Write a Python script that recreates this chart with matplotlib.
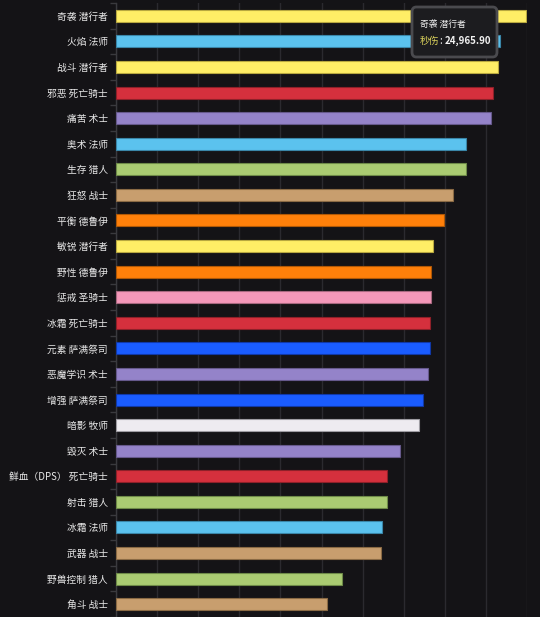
import matplotlib
matplotlib.use("Agg")
import matplotlib.pyplot as plt
from matplotlib.patches import FancyBboxPatch
from matplotlib.ticker import MultipleLocator, FixedLocator
import numpy as np

plt.rcParams['font.family'] = ['Noto Sans CJK SC', 'DejaVu Sans']

specs = ["奇袭 潜行者", "火焰 法师", "战斗 潜行者", "邪恶 死亡骑士", "痛苦 术士", "奥术 法师",
         "生存 猎人", "狂怒 战士", "平衡 德鲁伊", "敏锐 潜行者", "野性 德鲁伊", "惩戒 圣骑士",
         "冰霜 死亡骑士", "元素 萨满祭司", "恶魔学识 术士", "增强 萨满祭司", "暗影 牧师", "毁灭 术士",
         "鲜血（DPS） 死亡骑士", "射击 猎人", "冰霜 法师", "武器 战士", "野兽控制 猎人", "角斗 战士"]
dps = [24965.90, 23360, 23210, 22950, 22830, 21270,
       21260, 20480, 19970, 19260, 19180, 19160,
       19100, 19100, 18960, 18670, 18410, 17275,
       16465, 16465, 16200, 16100, 13730, 12850]
classes = ["rogue", "mage", "rogue", "dk", "warlock", "mage",
           "hunter", "warrior", "druid", "rogue", "druid", "paladin",
           "dk", "shaman", "warlock", "shaman", "priest", "warlock",
           "dk", "hunter", "mage", "warrior", "hunter", "warrior"]

class_colors = {
    "rogue": "#FFEE66", "mage": "#5BC2EE", "dk": "#D5303D", "warlock": "#9483C9",
    "hunter": "#AACB72", "warrior": "#C89E6E", "druid": "#FF800A", "paladin": "#F598BA",
    "shaman": "#1A5CFF", "priest": "#EEEBF0",
}
edge_colors = {
    "rogue": "#B8A840", "mage": "#3A86A8", "dk": "#8E2029", "warlock": "#66598C",
    "hunter": "#6E8A48", "warrior": "#8A6A44", "druid": "#B05806", "paladin": "#A86880",
    "shaman": "#1038A8", "priest": "#9E9CA2",
}

bg = "#141316"
fig = plt.figure(figsize=(5.40, 6.17), dpi=100, facecolor=bg)
ax = fig.add_axes([116/540, 0.0, 411/540, 614/617])
ax.set_facecolor(bg)

y = np.arange(len(specs))
ax.barh(y, dps, height=0.47,
        color=[class_colors[c] for c in classes],
        edgecolor=[edge_colors[c] for c in classes], linewidth=0.8, zorder=3)

ax.set_xlim(0, 25000)
ax.set_ylim(len(specs) - 0.5, -0.5)
ax.xaxis.set_major_locator(MultipleLocator(2500))
ax.grid(axis='x', color="#2B2A2F", linewidth=1.0, zorder=0)
ax.tick_params(axis='x', length=0, labelbottom=False)

ax.set_yticks(y)
ax.set_yticklabels(specs, color="#E8E8E8", fontsize=7, fontweight='medium')
ax.tick_params(axis='y', which='major', length=0, pad=6)
ax.yaxis.set_minor_locator(FixedLocator(np.arange(-0.5, len(specs), 1.0)))
ax.tick_params(axis='y', which='minor', length=4, color="#3A3A3E", width=1)

for s in ['top', 'right', 'bottom']:
    ax.spines[s].set_visible(False)
ax.spines['left'].set_color("#3A3A3E")
ax.spines['left'].set_linewidth(1)

# tooltip
tx0, ty0, tw, th = 412/540, 1 - 57/617, 85/540, 50/617
box = FancyBboxPatch((tx0, ty0), tw, th, boxstyle="round,pad=0,rounding_size=0.008",
                     transform=fig.transFigure, facecolor="#1C1C1F", edgecolor="#4A4A4E",
                     linewidth=2, zorder=10)
fig.patches.append(box)
fig.text(420/540, 1 - 24/617, specs[0], color="#F0F0F0", fontsize=6.3, va='center', ha='left', zorder=11)
fig.text(420/540, 1 - 41/617, "秒伤", color="#D8CF5A", fontsize=7, va='center', ha='left', zorder=11)
fig.text(439/540, 1 - 41/617, ":", color="#F0F0F0", fontsize=7, va='center', ha='left', zorder=11)
fig.text(445/540, 1 - 41/617, f"{dps[0]:,.2f}", color="#F0F0F0", fontsize=7,
         fontweight='bold', va='center', ha='left', zorder=11)

fig.savefig("out.png", dpi=100, facecolor=bg)
